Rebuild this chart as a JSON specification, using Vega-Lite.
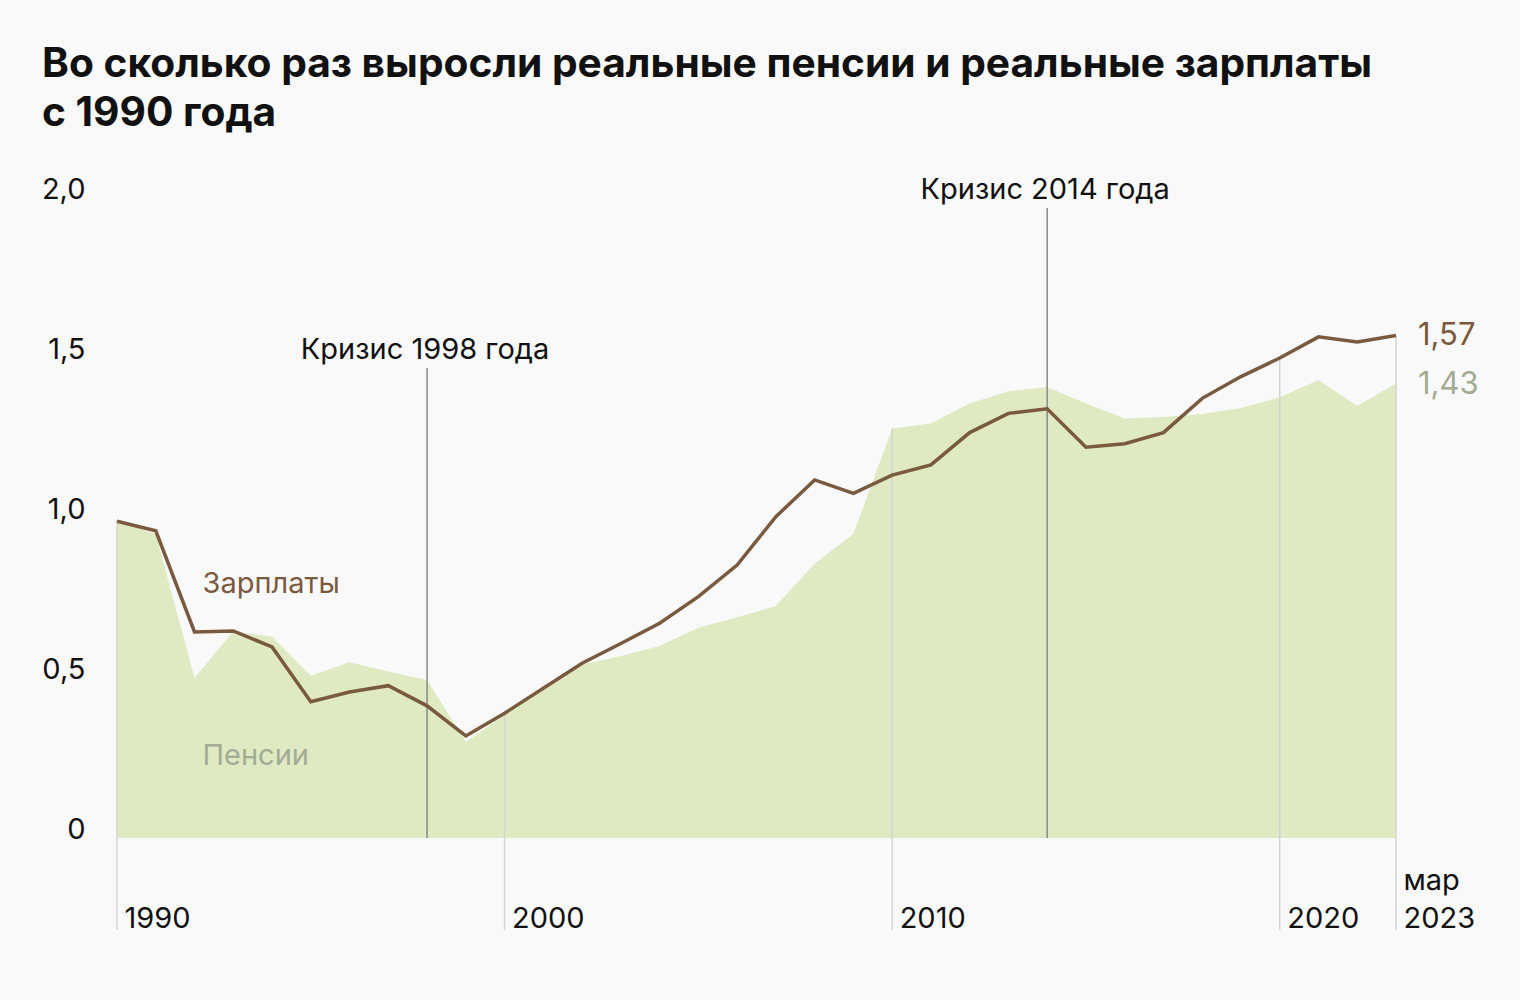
{
  "$schema": "https://vega.github.io/schema/vega-lite/v6.json",
  "autosize": "none",
  "width": 1279,
  "height": 732,
  "padding": {"left": 117, "top": 198, "right": 124, "bottom": 70},
  "background": "#f9f9f9",
  "config": {"view": {"stroke": null}, "font": "Inter"},
  "title": {
    "text": ["Во сколько раз выросли реальные пенсии и реальные зарплаты", "с 1990 года"],
    "fontSize": 40.7,
    "fontWeight": "bold",
    "font": "Inter",
    "color": "#111111",
    "anchor": "start",
    "frame": "group",
    "lineHeight": 49,
    "dx": -75,
    "offset": 40
  },
  "datasets": {
    "series": [
      {"year": 1990, "wage": 0.99, "pension": 0.99},
      {"year": 1991, "wage": 0.96, "pension": 0.95},
      {"year": 1992, "wage": 0.644, "pension": 0.5},
      {"year": 1993, "wage": 0.647, "pension": 0.645},
      {"year": 1994, "wage": 0.597, "pension": 0.629},
      {"year": 1995, "wage": 0.426, "pension": 0.507},
      {"year": 1996, "wage": 0.456, "pension": 0.549},
      {"year": 1997, "wage": 0.476, "pension": 0.52},
      {"year": 1998, "wage": 0.413, "pension": 0.494},
      {"year": 1999, "wage": 0.319, "pension": 0.3},
      {"year": 2000, "wage": 0.39, "pension": 0.385},
      {"year": 2001, "wage": 0.468, "pension": 0.462},
      {"year": 2002, "wage": 0.546, "pension": 0.542},
      {"year": 2003, "wage": 0.608, "pension": 0.569},
      {"year": 2004, "wage": 0.671, "pension": 0.6},
      {"year": 2005, "wage": 0.754, "pension": 0.657},
      {"year": 2006, "wage": 0.853, "pension": 0.69},
      {"year": 2007, "wage": 1.004, "pension": 0.725},
      {"year": 2008, "wage": 1.119, "pension": 0.858},
      {"year": 2009, "wage": 1.077, "pension": 0.95},
      {"year": 2010, "wage": 1.134, "pension": 1.28},
      {"year": 2011, "wage": 1.166, "pension": 1.295},
      {"year": 2012, "wage": 1.267, "pension": 1.358},
      {"year": 2013, "wage": 1.327, "pension": 1.396},
      {"year": 2014, "wage": 1.341, "pension": 1.409},
      {"year": 2015, "wage": 1.221, "pension": 1.358},
      {"year": 2016, "wage": 1.232, "pension": 1.311},
      {"year": 2017, "wage": 1.267, "pension": 1.316},
      {"year": 2018, "wage": 1.374, "pension": 1.325},
      {"year": 2019, "wage": 1.442, "pension": 1.344},
      {"year": 2020, "wage": 1.5, "pension": 1.377},
      {"year": 2021, "wage": 1.566, "pension": 1.431},
      {"year": 2022, "wage": 1.55, "pension": 1.35},
      {"year": 2023, "wage": 1.57, "pension": 1.42}
    ],
    "crises": [
      {"year": 1998, "label": "Кризис 1998 года", "level": 1.5},
      {"year": 2014, "label": "Кризис 2014 года", "level": 2.0}
    ],
    "seriesLabels": [
      {"year": 1992, "value": 0.766, "label": "Зарплаты", "kind": "wage"},
      {"year": 1992, "value": 0.228, "label": "Пенсии", "kind": "pension"}
    ],
    "endLabels": [
      {"year": 2023, "value": 1.57, "label": "1,57", "kind": "wage"},
      {"year": 2023, "value": 1.415, "label": "1,43", "kind": "pension"}
    ]
  },
  "encoding": {
    "x": {
      "field": "year",
      "type": "quantitative",
      "scale": {"domain": [1990, 2023], "nice": false, "zero": false},
      "axis": {
        "title": null,
        "values": [1990, 2000, 2010, 2020, 2023],
        "labelExpr": "datum.value == 2023 ? ['мар', '2023'] : ['', format(datum.value, 'd')]",
        "domain": false,
        "ticks": false,
        "grid": false,
        "labelAlign": "left",
        "labelBaseline": "alphabetic",
        "labelPadding": -41,
        "labelOffset": 7,
        "labelFontSize": 29,
        "labelColor": "#111111",
        "labelFont": "Inter",
        "labelLineHeight": 38,
        "labelOverlap": false
      }
    }
  },
  "layer": [
    {
      "data": {"name": "series"},
      "mark": {"type": "area", "color": "#dfe9c2", "opacity": 1},
      "encoding": {
        "y": {
          "field": "pension",
          "type": "quantitative",
          "scale": {"domain": [-0.2875, 2.0], "nice": false, "zero": false},
          "axis": {
            "title": null,
            "values": [0, 0.5, 1, 1.5, 2],
            "labelExpr": "datum.value == 0 ? '0' : replace(format(datum.value, '.1f'), '.', ',')",
            "domain": false,
            "ticks": false,
            "grid": false,
            "labelAlign": "right",
            "labelBaseline": "alphabetic",
            "labelPadding": 32,
            "labelFontSize": 29,
            "labelColor": "#111111",
            "labelFont": "Inter"
          }
        },
        "y2": {"datum": 0}
      }
    },
    {
      "data": {"name": "series"},
      "transform": [
        {"filter": "datum.year == 1990 || datum.year == 2000 || datum.year == 2010 || datum.year == 2020 || datum.year == 2023"},
        {"calculate": "max(datum.wage, datum.pension)", "as": "top"}
      ],
      "mark": {"type": "rule", "color": "#d4d4d4", "strokeWidth": 1.5},
      "encoding": {
        "y": {"field": "top", "type": "quantitative"},
        "y2": {"datum": -0.2875}
      }
    },
    {
      "data": {"name": "crises"},
      "mark": {"type": "rule", "color": "#8a8a8a", "strokeWidth": 1.5, "yOffset": 10},
      "encoding": {
        "y": {"field": "level", "type": "quantitative"},
        "y2": {"datum": 0}
      }
    },
    {
      "data": {"name": "crises"},
      "mark": {"type": "text", "fontSize": 29, "align": "center", "baseline": "alphabetic", "color": "#111111", "dx": -2, "dy": 1},
      "encoding": {
        "y": {"field": "level", "type": "quantitative"},
        "text": {"field": "label"}
      }
    },
    {
      "data": {"name": "series"},
      "mark": {"type": "line", "color": "#7a5a3f", "strokeWidth": 3.5, "strokeJoin": "miter"},
      "encoding": {
        "y": {"field": "wage", "type": "quantitative"}
      }
    },
    {
      "data": {"name": "seriesLabels"},
      "mark": {"type": "text", "fontSize": 29, "align": "left", "baseline": "alphabetic", "dx": 8},
      "encoding": {
        "y": {"field": "value", "type": "quantitative"},
        "text": {"field": "label"},
        "color": {"field": "kind", "type": "nominal", "scale": {"domain": ["wage", "pension"], "range": ["#7a5a3f", "#a3ab95"]}, "legend": null}
      }
    },
    {
      "data": {"name": "endLabels"},
      "mark": {"type": "text", "fontSize": 31, "align": "left", "baseline": "middle", "dx": 22},
      "encoding": {
        "y": {"field": "value", "type": "quantitative"},
        "text": {"field": "label"},
        "color": {"field": "kind", "type": "nominal", "scale": {"domain": ["wage", "pension"], "range": ["#7a5a3f", "#c6d0aa"]}, "legend": null}
      }
    }
  ]
}
